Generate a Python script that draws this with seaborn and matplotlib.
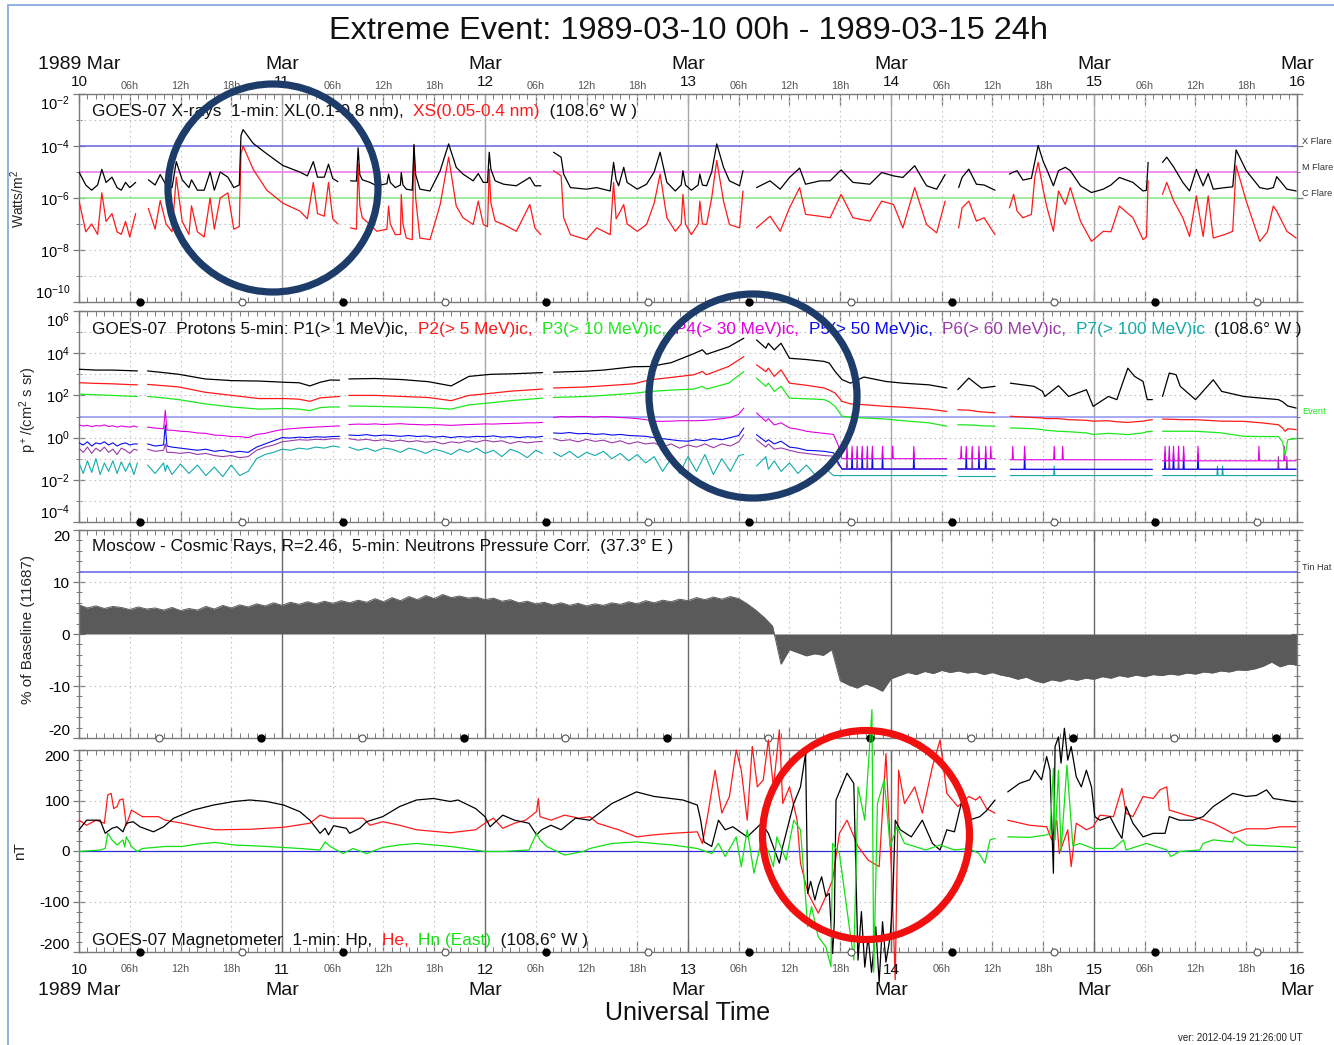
import numpy as np
import matplotlib
matplotlib.use("Agg")
import matplotlib.pyplot as plt
import seaborn as sns
from matplotlib.patches import Ellipse, Rectangle
from matplotlib.ticker import FixedLocator, FuncFormatter, NullFormatter, MultipleLocator
import matplotlib.transforms as mtransforms

# ------------------------------------------------------------------ DATA
# time axis: hours since 1989-03-10 00h
DAY_NUMBERS = [10, 11, 12, 13, 14, 15, 16]
HOUR_LABELS = ["06h", "12h", "18h"]

# Panel 1 - GOES-07 X-rays, log10(W/m^2), one list per data segment
XRAY_T = [
    [0, 0.8, 1.5, 2.2, 2.7, 3.2, 3.9, 4.5, 5.0, 5.5, 6.0, 6.7],
    [8.2, 9.0, 9.6, 10.3, 11.0, 11.5, 12.2, 13.0, 13.3, 14.0, 14.8, 15.5, 16.0, 16.7, 17.6,
     18.3, 18.95, 19.15, 19.4, 20.6, 22.2, 24.1, 26.1, 27.0, 27.7, 28.2, 29.0, 29.5, 30.0, 30.6],
    [32.1, 32.8, 33.0, 33.2, 33.5, 34.4, 35.2, 36.4, 36.6, 36.8, 37.4, 38.0, 38.1, 38.3, 38.7,
     39.4, 39.6, 39.8, 40.3, 41.5, 42.7, 43.7, 44.6, 45.4, 46.6, 47.2, 47.8, 48.3, 48.5, 48.7,
     49.2, 50.2, 51.7, 53.3, 53.9, 54.6],
    [56.1, 57.0, 57.3, 58.1, 60.0, 61.2, 62.8, 63.2, 63.5, 63.8, 64.4, 64.8, 66.0, 67.1, 68.0,
     68.7, 69.5, 70.5, 71.2, 71.4, 71.7, 72.4, 73.2, 73.4, 73.7, 74.2, 74.8, 75.4, 76.2, 76.9,
     78.1, 78.5],
    [80.1, 81.7, 82.9, 84.0, 85.2, 85.9, 87.6, 88.8, 90.1, 91.5, 93.5, 94.9, 96.3, 97.4, 98.8,
     100.2, 101.4, 102.4],
    [104.0, 104.4, 105.2, 106.1, 107.0, 108.3],
    [110.0, 110.5, 110.9, 111.6, 112.6, 113.0, 113.4, 114.0, 114.4, 115.2, 115.8, 116.6, 117.2,
     118.4, 119.7, 121.1, 122.0, 123.0, 124.6, 125.8, 126.2, 126.4],
    [128.1, 128.6, 129.4, 130.5, 131.3, 132.1, 132.9, 133.5, 134.1, 135.5, 136.4, 136.8, 138.0,
     139.6, 140.5, 141.2, 141.6, 142.8, 143.9],
]
XL_LOG = [
    [-5.0, -5.5, -5.7, -5.5, -4.9, -5.4, -5.2, -5.6, -5.7, -5.4, -5.6, -5.4],
    [-5.3, -5.5, -5.1, -5.5, -5.6, -4.6, -5.3, -5.6, -5.3, -5.7, -5.7, -5.0, -5.7, -5.0, -5.2,
     -5.6, -5.5, -3.6, -3.37, -3.9, -4.3, -4.75, -5.0, -5.15, -4.6, -5.2, -5.2, -4.7, -5.25, -5.37],
    [-5.34, -5.35, -4.07, -5.1, -5.3, -5.4, -5.53, -5.45, -5.08, -5.4, -5.6, -5.5, -5.02, -5.5, -5.66,
     -5.7, -3.94, -5.1, -5.66, -5.73, -4.95, -3.92, -4.82, -5.08, -5.34, -5.06, -5.4, -5.4, -4.24, -4.9,
     -5.34, -5.47, -5.53, -5.21, -5.53, -5.53],
    [-4.24, -4.43, -5.08, -5.6, -5.66, -5.6, -5.73, -4.63, -5.3, -5.53, -4.82, -5.4, -5.66, -5.47, -5.0,
     -4.24, -5.4, -5.73, -5.5, -4.95, -5.5, -5.7, -5.5, -5.08, -5.5, -5.53, -5.0, -3.92, -4.82, -5.34,
     -5.53, -4.95],
    [-5.6, -5.34, -5.66, -5.21, -4.85, -5.47, -5.34, -5.34, -4.92, -5.4, -5.47, -5.02, -5.15, -5.21,
     -4.76, -5.53, -5.66, -5.1],
    [-5.6, -5.21, -4.89, -5.47, -5.5, -5.7],
    [-5.08, -5.0, -4.95, -5.31, -5.24, -4.6, -3.98, -4.6, -4.89, -5.53, -4.95, -4.82, -4.95, -5.53,
     -5.79, -5.66, -5.5, -5.21, -5.4, -5.73, -5.7, -4.63],
    [-4.63, -4.43, -4.8, -5.4, -5.73, -4.9, -5.53, -5.06, -5.66, -5.6, -5.57, -4.15, -4.95, -5.6,
     -5.66, -5.6, -5.18, -5.66, -5.73],
]
XS_LOG = [
    [-6.1, -7.3, -7.0, -7.4, -5.8, -6.9, -6.6, -7.3, -7.4, -6.9, -7.5, -6.6],
    [-6.4, -7.2, -6.1, -7.0, -7.3, -5.2, -6.9, -7.4, -6.3, -7.3, -7.5, -6.0, -7.2, -6.0, -5.8,
     -7.2, -7.1, -4.3, -4.0, -4.9, -5.7, -6.2, -6.5, -6.8, -5.4, -6.6, -6.7, -5.4, -6.8, -7.0],
    [-7.15, -7.2, -4.69, -6.3, -6.76, -7.02, -7.28, -7.2, -6.31, -7.0, -7.41, -7.4, -5.86, -7.0, -7.54,
     -7.6, -3.98, -6.0, -7.54, -7.6, -6.25, -4.43, -6.31, -6.76, -7.02, -6.12, -7.02, -7.1, -4.89, -6.2,
     -6.89, -7.02, -7.28, -6.25, -7.15, -7.41],
    [-4.95, -5.15, -6.76, -7.41, -7.6, -7.15, -7.41, -5.4, -6.8, -6.63, -6.25, -7.0, -7.28, -7.02, -6.2,
     -5.08, -6.76, -7.28, -7.0, -5.86, -7.0, -7.41, -7.0, -6.12, -7.0, -7.02, -6.0, -4.56, -6.12, -7.02,
     -7.15, -5.73],
    [-7.15, -6.7, -7.28, -6.38, -5.6, -6.63, -6.7, -6.76, -5.86, -6.76, -6.89, -6.12, -6.25, -7.15,
     -5.6, -7.02, -7.34, -6.12],
    [-7.15, -6.38, -6.12, -6.89, -6.76, -7.41],
    [-6.38, -5.86, -6.5, -6.76, -6.63, -5.2, -4.63, -5.7, -6.31, -7.28, -5.73, -6.25, -5.6, -6.89,
     -7.67, -7.28, -7.3, -6.31, -6.76, -7.6, -7.5, -5.34],
    [-5.86, -5.4, -6.1, -6.76, -7.48, -5.92, -7.48, -5.92, -7.54, -7.4, -7.28, -4.76, -6.12, -7.67,
     -7.3, -6.31, -6.5, -7.28, -7.54],
]
FLARE_LEVELS = [1e-4, 1e-5, 1e-6]
FLARE_NAMES = ["X Flare", "M Flare", "C Flare"]

# Panel 2 - GOES-07 protons, log10(p/(cm2 s sr)); P1-P3 share segment times
P_T = [
    [0, 2, 3.9, 5.5, 6.9],
    [8.1, 10.0, 11.8, 14.9, 18.1, 21.3, 24.4, 26.0, 27.3, 28.5, 29.7, 30.8],
    [31.9, 35.0, 38.2, 41.3, 44.0, 46.1, 48.7, 51.0, 54.8],
    [56.1, 60.0, 62.0, 65.6, 67.5, 70.0, 72.7, 73.7, 74.2, 76.8, 78.6],
    [80.1, 81.2, 81.5, 82.2, 83.0, 84.0, 86.0, 88.1, 88.7, 89.4, 90.2, 91.2, 92.8, 95.4, 97.4, 100.5, 102.6],
    [103.9, 105.2, 106.2, 106.7, 108.3],
    [110.1, 112.9, 113.9, 114.2, 115.8, 117.0, 119.1, 119.9, 121.7, 122.7, 124.0, 124.8, 125.8, 126.3, 126.9],
    [128.1, 128.9, 129.7, 130.2, 132.0, 134.1, 135.1, 137.7, 139.8, 141.8, 142.3, 142.6, 142.9, 143.9],
]
P1_LOG = [
    [3.24, 3.2, 3.2, 3.18, 3.16],
    [3.16, 3.08, 3.0, 2.78, 2.7, 2.68, 2.62, 2.6, 2.45, 2.62, 2.73, 2.72],
    [2.78, 2.8, 2.75, 2.65, 2.45, 2.9, 3.0, 3.02, 3.08],
    [3.1, 3.15, 3.2, 3.36, 3.37, 3.55, 3.98, 4.16, 3.95, 4.3, 4.71],
    [4.63, 4.24, 4.47, 4.16, 4.47, 3.76, 3.7, 3.61, 3.53, 3.13, 2.75, 2.58, 2.87, 2.66, 2.58, 2.5, 2.35],
    [2.27, 2.82, 2.5, 2.35, 2.43],
    [2.58, 2.43, 2.2, 1.95, 2.46, 1.95, 2.27, 1.48, 1.95, 1.8, 3.29, 2.9, 2.66, 1.8, 1.8],
    [1.95, 3.06, 2.98, 2.43, 1.8, 2.74, 2.19, 1.95, 1.87, 1.8, 1.7, 1.6, 1.5, 1.4],
]
P2_LOG = [
    [2.6, 2.57, 2.55, 2.52, 2.5],
    [2.52, 2.46, 2.4, 2.15, 2.0, 1.85, 1.85, 1.82, 1.72, 1.88, 1.92, 1.95],
    [2.0, 2.0, 1.95, 1.9, 1.75, 2.0, 2.1, 2.2, 2.3],
    [2.35, 2.4, 2.45, 2.55, 2.74, 2.85, 2.98, 3.13, 2.98, 3.37, 3.84],
    [3.45, 3.13, 3.29, 2.9, 3.21, 2.58, 2.48, 2.35, 2.25, 2.11, 1.72, 1.6, 1.56, 1.48, 1.44, 1.35, 1.24],
    [1.32, 1.3, 1.24, 1.22, 1.17],
    [1.01, 0.95, 0.93, 0.9, 0.9, 0.85, 0.82, 0.78, 0.8, 0.75, 0.72, 0.75, 0.78, 0.82, 0.85],
    [0.88, 0.87, 0.86, 0.85, 0.85, 0.8, 0.78, 0.77, 0.7, 0.61, 0.45, 0.3, 0.42, 0.38],
]
P3_LOG = [
    [2.06, 2.03, 2.0, 1.97, 1.95],
    [1.95, 1.88, 1.8, 1.6, 1.45, 1.35, 1.38, 1.35, 1.28, 1.42, 1.45, 1.45],
    [1.5, 1.48, 1.45, 1.42, 1.35, 1.55, 1.65, 1.75, 1.87],
    [1.9, 1.95, 2.0, 2.1, 2.19, 2.25, 2.3, 2.43, 2.3, 2.58, 3.13],
    [2.82, 2.43, 2.58, 2.19, 2.43, 1.87, 1.84, 1.8, 1.7, 1.48, 1.01, 0.97, 0.93, 0.88, 0.8, 0.7, 0.54],
    [0.61, 0.6, 0.58, 0.56, 0.54],
    [0.46, 0.42, 0.38, 0.35, 0.3, 0.28, 0.22, 0.15, 0.2, 0.18, 0.14, 0.18, 0.22, 0.28, 0.3],
    [0.3, 0.3, 0.3, 0.3, 0.3, 0.25, 0.22, 0.06, 0.05, 0.05, -0.2, -0.85, -0.1, -0.05],
]
# P4-P7 before the flat, spiky part (segments 1-4 and the decay of segment 5)
HI_T = [
    [0, 0.5, 1, 1.5, 2, 2.5, 3, 3.5, 4, 4.5, 5, 5.5, 6, 6.5, 6.9],
    [8.1, 9, 10, 10.2, 10.4, 11, 12, 13, 14, 15, 16, 17, 18, 19, 20, 21, 22, 23, 24, 25, 26, 27, 28, 29, 30, 30.8],
    [31.9, 33, 34, 35, 36, 37, 38, 39, 40, 41, 42, 43, 44, 45, 46, 47, 48, 49, 50, 51, 52, 53, 54, 54.8],
    [56.1, 57, 58, 59, 60, 61, 62, 63, 64, 65, 66, 67, 68, 69, 70, 71, 72, 73, 74, 75, 76, 77, 78, 78.6],
    [80.1, 81.2, 81.5, 82.2, 83.0, 84.0, 85, 86, 87, 88.1, 89.2, 89.8, 90.2],
]
P4_LOG = [
    [0.6, 0.55, 0.58, 0.52, 0.57, 0.55, 0.6, 0.53, 0.56, 0.5, 0.55, 0.52, 0.5, 0.55, 0.5],
    [0.5, 0.45, 0.42, 1.3, 0.35, 0.35, 0.3, 0.28, 0.22, 0.2, 0.12, 0.1, 0.05, 0.05, 0.0, 0.15, 0.2, 0.3,
     0.38, 0.42, 0.45, 0.48, 0.5, 0.52, 0.54, 0.55],
    [0.62, 0.64, 0.63, 0.65, 0.62, 0.64, 0.66, 0.63, 0.62, 0.6, 0.62, 0.6, 0.58, 0.6, 0.62, 0.63, 0.65,
     0.64, 0.66, 0.67, 0.68, 0.7, 0.7, 0.72],
    [0.95, 1.0, 0.98, 1.0, 1.0, 0.97, 1.0, 0.98, 0.95, 0.93, 0.9, 0.85, 0.78, 0.77, 0.78, 0.8, 0.8, 0.8,
     0.82, 0.85, 0.9, 0.95, 1.1, 1.4],
    [1.17, 0.77, 0.9, 0.6, 0.7, 0.46, 0.4, 0.3, 0.25, 0.2, 0.15, -0.4, -1.0],
]
P5_LOG = [
    [-0.25, -0.35, -0.2, -0.4, -0.25, -0.3, -0.2, -0.35, -0.25, -0.4, -0.3, -0.25, -0.35, -0.3, -0.3],
    [-0.3, -0.4, -0.35, 0.6, -0.4, -0.45, -0.5, -0.55, -0.6, -0.55, -0.65, -0.6, -0.7, -0.65, -0.7, -0.45,
     -0.3, -0.15, 0.0, -0.02, 0.02, 0.0, 0.04, 0.02, 0.05, 0.06],
    [0.12, 0.1, 0.14, 0.08, 0.12, 0.1, 0.06, 0.1, 0.05, 0.08, 0.02, 0.06, 0.0, 0.05, 0.02, 0.06, 0.04,
     0.08, 0.02, 0.05, 0.0, 0.04, 0.02, 0.06],
    [0.22, 0.2, 0.24, 0.18, 0.2, 0.15, 0.18, 0.12, 0.15, 0.1, 0.08, 0.06, 0.0, -0.05, -0.1, -0.15, -0.17,
     -0.1, -0.15, -0.05, -0.1, 0.0, 0.1, 0.46],
    [0.14, -0.2, -0.1, -0.3, -0.17, -0.45, -0.5, -0.6, -0.62, -0.65, -0.72, -1.2, -1.5],
]
P6_LOG = [
    [-0.5, -0.7, -0.45, -0.75, -0.5, -0.65, -0.45, -0.7, -0.55, -0.8, -0.5, -0.6, -0.75, -0.55, -0.6],
    [-0.55, -0.65, -0.6, -0.3, -0.7, -0.7, -0.75, -0.7, -0.8, -0.75, -0.85, -0.9, -0.85, -0.95, -0.9, -0.6,
     -0.45, -0.35, -0.2, -0.15, -0.1, -0.12, -0.08, -0.1, -0.05, -0.06],
    [-0.05, -0.12, -0.08, -0.15, -0.1, -0.18, -0.12, -0.2, -0.15, -0.22, -0.18, -0.3, -0.2, -0.25, -0.15,
     -0.22, -0.12, -0.2, -0.15, -0.28, -0.18, -0.25, -0.2, -0.18],
    [-0.05, -0.15, -0.1, -0.2, -0.08, -0.18, -0.12, -0.25, -0.15, -0.3, -0.2, -0.3, -0.25, -0.45, -0.3,
     -0.5, -0.35, -0.45, -0.3, -0.48, -0.3, -0.4, -0.2, 0.14],
    [-0.1, -0.45, -0.3, -0.55, -0.49, -0.6, -0.7, -0.75, -0.8, -0.85, -0.88, -1.3, -1.47],
]
P7_LOG = [
    [-1.2, -1.7, -1.1, -1.65, -1.0, -1.75, -1.2, -1.6, -1.1, -1.7, -1.15, -1.6, -1.2, -1.75, -1.2],
    [-1.3, -1.7, -1.2, -1.6, -1.3, -1.75, -1.25, -1.7, -1.3, -1.8, -1.4, -1.85, -1.3, -1.8, -1.6, -1.0,
     -0.8, -0.7, -0.55, -0.6, -0.5, -0.55, -0.45, -0.5, -0.4, -0.45],
    [-0.45, -0.6, -0.5, -0.65, -0.5, -0.55, -0.7, -0.5, -0.6, -0.75, -0.55, -0.65, -0.8, -0.55, -0.7,
     -0.5, -0.75, -0.6, -0.9, -0.55, -0.7, -0.95, -0.6, -0.75],
    [-0.7, -0.9, -0.65, -0.95, -0.7, -0.85, -0.65, -1.0, -0.75, -1.1, -0.8, -1.2, -0.9, -1.6, -1.0,
     -1.7, -0.9, -1.6, -0.8, -1.75, -1.0, -1.6, -0.85, -0.8],
    [-1.35, -0.9, -1.5, -1.1, -1.6, -1.2, -1.7, -1.3, -1.75, -1.4, -1.8, -1.8, -1.8],
]
# flat background after the shock with short spikes (times of the spikes)
SPIKY_SPANS = [(90.2, 102.6), (103.9, 108.3), (110.1, 126.9), (128.1, 143.9)]
P4_BASE = [-1.0, -1.0, -1.05, -1.1]
P5_BASE = [-1.5, -1.5, -1.5, -1.5]
P6_BASE = [-1.47, -1.47, -1.48, -1.5]
P7_BASE = [-1.8, -1.8, -1.8, -1.8]
P4_SPIKES = [[90.8, 91.4, 92.0, 92.6, 93.2, 93.8, 95.0, 96.2, 98.7],
             [104.3, 104.9, 105.6, 106.4, 107.2, 107.8],
             [110.4, 111.8, 115.3, 116.3],
             [128.4, 128.9, 129.4, 130.0, 130.6, 132.3, 139.5, 142.5]]
P5_SPIKES = [[91.4, 92.6, 93.8, 95.0, 98.7], [104.9, 106.4, 107.2], [111.8], [128.4, 129.4, 130.6, 132.3]]
P6_SPIKES = [[90.8, 92.0, 93.2], [105.6], [], [128.9, 130.0, 141.8, 142.8]]
P7_SPIKES = [[], [], [115.3], [134.6, 135.2]]
SPIKE_PEAK = {"P4": -0.41, "P5": -0.75, "P6": -0.9, "P7": -1.35}
EVENT_LEVEL = 10.0

# Panel 3 - Moscow neutron monitor, % of baseline, hourly
CR_HOURS = list(range(145))
CR_PCT = [5.6, 5.0, 5.4, 4.9, 5.3, 5.1, 4.7, 5.2, 4.8, 5.0,
          4.6, 5.1, 4.5, 4.9, 4.6, 5.3, 4.8, 5.5, 5.0, 5.6,
          5.2, 5.8, 5.4, 6.0, 5.5, 6.1, 5.7, 6.2, 5.8, 6.3,
          5.9, 6.4, 6.0, 6.5, 6.1, 6.8, 6.2, 7.0, 6.4, 7.2,
          6.6, 7.4, 6.8, 7.6, 7.0, 7.3, 6.9, 7.1, 6.6, 6.9,
          6.3, 6.6, 6.0, 6.3, 5.8, 6.1, 5.6, 6.0, 5.5, 5.9,
          5.4, 5.8, 5.5, 6.0, 5.7, 6.2, 5.8, 6.4, 6.0, 6.5,
          6.2, 6.7, 6.4, 7.0, 6.6, 7.1, 6.7, 7.2, 6.8, 5.8,
          4.6, 3.2, 1.5, -5.8, -3.0, -3.6, -4.2, -3.8, -4.1, -3.0,
          -9.0, -9.8, -10.4, -9.6, -10.2, -11.0, -8.6, -8.0, -7.4, -7.8,
          -7.2, -7.6, -7.0, -7.4, -7.1, -7.5, -7.3, -7.8, -7.4, -7.9,
          -8.2, -8.7, -8.3, -9.0, -9.4, -8.8, -9.1, -8.6, -8.9, -8.5,
          -8.7, -8.2, -8.5, -8.0, -8.3, -7.9, -8.2, -7.8, -8.0, -7.7,
          -7.9, -7.5, -7.7, -7.3, -7.5, -7.1, -7.3, -6.9, -7.0, -6.7,
          -6.2, -5.4, -6.3, -5.8, -5.9]
TIN_HAT_LEVEL = 12.0

# Panel 4 - GOES-07 magnetometer (nT), two data segments per component
HP_T = [
    [0, 0.9, 2.5, 3.1, 3.9, 4.5, 5.2, 5.6, 6.4, 7.2,
     8.8, 10.0, 11.2, 13.5, 15.9, 18.3, 20.2, 22.2, 24.2, 26.1,
     27.3, 28.5, 29.1, 29.5, 30.1, 31.6, 32.0, 33.2, 34.0, 35.9,
     37.9, 39.9, 41.9, 43.9, 44.8, 46.9, 48.0, 48.6, 50.1, 51.5,
     53.2, 54.1, 54.7, 55.8, 57.0, 58.7, 60.4, 63.0, 65.9, 68.0,
     71.4, 73.1, 73.5, 73.9, 74.8, 75.6, 76.4, 77.3, 79.0, 80.7,
     81.5, 82.8, 83.2, 84.5, 85.3, 85.9, 86.15, 86.5, 87.0, 87.4,
     87.8, 88.3, 88.7, 89.1, 89.3, 89.5, 90.8, 91.6, 92.1, 92.5,
     92.9, 93.3, 93.7, 94.2, 94.6, 95.0, 95.4, 95.9, 96.2, 96.5,
     97.1, 98.4, 99.7, 100.9, 101.8, 102.6, 103.5, 104.3, 105.2, 106.5,
     107.3, 108.3],
    [109.8, 111.2, 112.4, 113.0, 113.8, 114.4, 114.8, 115.2, 115.4, 115.8,
     116.1, 116.5, 116.9, 117.3, 117.9, 118.5, 119.1, 119.7, 120.1, 120.7,
     121.9, 122.7, 123.3, 123.8, 124.6, 125.8, 127.0, 128.4, 128.9, 130.1,
     131.7, 132.9, 134.1, 136.4, 138.0, 139.2, 140.4, 141.2, 143.5, 143.9],
]
HP_NT = [
    [42, 61, 61, 35, 45, 48, 38, 55, 58, 48,
     38, 48, 65, 81, 91, 98, 101, 98, 91, 78,
     61, 35, 45, 32, 50, 45, 35, 45, 58, 68,
     88, 101, 104, 98, 101, 84, 68, 48, 71, 61,
     55, 32, 42, 51, 42, 65, 61, 94, 117, 108,
     101, 91, 61, 18, 9, 61, 42, 48, 28, 55,
     35, -24, 9, 94, 127, 193, -84, -60, -97, -70,
     -51, -90, -84, -203, -140, 101, 154, 134, -216, -120,
     -230, -170, -240, -150, -260, -140, -220, -170, -100, 61,
     42, 28, 61, 15, 2, 42, 38, 94, 61, 68,
     80, 101],
    [117, 134, 141, 160, 141, 187, 160, -44, 207, 226,
     174, 243, 180, 207, 147, 127, 160, 127, 68, 61,
     68, 42, 25, 88, 55, 28, 35, 35, 68, 61,
     61, 68, 88, 114, 108, 110, 121, 104, 98, 98],
]
HE_T = [
    [0, 0.9, 2.0, 3.0, 3.4, 3.8, 4.1, 4.5, 4.8, 5.2,
     5.6, 6.2, 7.5, 9.4, 10.2, 12.2, 14.1, 16.1, 20.2, 24.2,
     27.3, 28.5, 29.7, 32.0, 33.6, 34.4, 35.9, 37.9, 39.9, 43.9,
     44.8, 46.9, 48.0, 49.0, 50.1, 51.5, 52.8, 54.1, 54.3, 54.5,
     55.8, 57.4, 59.1, 60.4, 61.3, 63.8, 65.9, 68.0, 70.1, 73.1,
     73.7, 74.3, 75.2, 76.0, 76.9, 77.7, 78.3, 79.0, 79.6, 80.2,
     80.9, 81.5, 82.1, 82.8, 83.2, 84.0, 84.9, 85.3, 86.2, 87.4,
     88.3, 89.1, 89.9, 90.8, 92.1, 93.3, 94.6, 95.4, 96.1, 96.5,
     96.9, 97.6, 98.8, 99.7, 100.9, 101.8, 102.6, 103.9, 105.2, 106.0,
     106.5, 107.3, 108.3],
    [109.8, 112.4, 114.4, 115.0, 115.6, 115.9, 116.9, 117.3, 117.9, 119.1,
     119.9, 120.7, 122.3, 123.3, 123.8, 124.6, 125.8, 127.0, 127.8, 128.6,
     128.9, 130.9, 132.5, 134.1, 135.6, 136.4, 138.0, 140.4, 142.0, 143.9],
]
HE_NT = [
    [61, 51, 61, 55, 111, 114, 84, 88, 101, 103,
     51, 81, 68, 68, 61, 55, 48, 42, 43, 47,
     55, 71, 65, 65, 65, 51, 58, 51, 42, 36,
     38, 42, 55, 65, 45, 55, 61, 78, 104, 68,
     61, 71, 65, 68, 55, 42, 28, 32, 35, 38,
     15, 68, 160, 75, 108, 200, 160, 61, 207, 127,
     141, 220, 127, 240, 94, 127, 61, -24, -84, -123,
     -90, -57, 35, 61, 9, -18, -31, 193, -57, -255,
     160, 94, 127, 75, 167, 220, 114, 88, 108, 101,
     108, 84, 75],
    [61, 51, 48, 22, 61, -5, 42, -31, 55, 42,
     48, 71, 68, 124, 75, 68, 108, 104, 121, 127,
     81, 71, 64, 55, 42, 35, 44, 44, 48, 48],
]
HN_T = [
    [0, 2.5, 3.1, 3.4, 3.9, 4.5, 5.2, 5.4, 5.6, 6.2,
     6.9, 7.5, 10.2, 12.2, 14.1, 16.1, 18.3, 22.2, 26.1, 28.5,
     29.1, 29.7, 31.2, 32.4, 34.0, 35.9, 37.9, 39.9, 43.9, 46.9,
     48.0, 50.1, 53.2, 54.1, 54.5, 55.3, 57.4, 59.6, 60.4, 63.0,
     65.9, 70.1, 73.1, 74.8, 75.6, 76.4, 77.7, 78.3, 79.0, 79.8,
     80.7, 81.5, 82.1, 82.5, 83.6, 84.5, 85.3, 86.15, 86.6, 87.4,
     88.3, 88.9, 89.1, 89.9, 91.6, 92.1, 92.9, 93.75, 93.96, 94.4,
     95.2, 95.9, 96.7, 97.6, 98.8, 100.1, 101.8, 103.5, 105.2, 106.4,
     107.1, 107.7, 108.3],
    [109.8, 112.4, 114.4, 114.8, 115.2, 115.4, 115.8, 116.1, 116.8, 117.5,
     118.3, 119.9, 122.3, 123.5, 123.8, 126.2, 128.6, 129.1, 130.1, 132.5,
     132.9, 134.1, 136.4, 136.6, 138.0, 142.0, 143.9],
]
HN_NT = [
    [-1, 2, 5, 35, 22, 12, 22, 8, 28, 9,
     -1, 5, 9, 9, 14, 17, 12, 9, 5, 2,
     18, 9, -5, 5, -5, 7, 12, 15, 9, 2,
     -1, -1, 2, 35, 22, 9, -8, -1, 5, 15,
     18, 12, 5, -5, 15, -11, 28, -31, 42, -44,
     22, 0, -31, 28, -18, 61, 42, -150, -110, -170,
     -190, -229, 15, -5, -216, 127, 61, 280, -240, 94,
     141, 9, 48, 15, 9, 2, 12, 2, 5, -5,
     -24, 22, 25],
    [28, 27, 32, 35, 164, 22, 160, -1, 170, 10,
     15, 5, 5, 22, 2, 15, 2, -11, -1, 2,
     15, 22, 18, 28, 12, 9, 7],
]

# local midnight (filled) / noon (open) markers
GOES_MIDNIGHT = [7.24, 31.24, 55.24, 79.24, 103.24, 127.24]
GOES_NOON = [19.24, 43.24, 67.24, 91.24, 115.24, 139.24]
MOSCOW_MIDNIGHT = [21.5, 45.5, 69.5, 93.5, 117.5, 141.5]
MOSCOW_NOON = [9.5, 33.5, 57.5, 81.5, 105.5, 129.5]

# ------------------------------------------------------------------ STYLE
sns.set_theme(style="white")
plt.rcParams["font.family"] = ["Liberation Sans", "DejaVu Sans"]
plt.rcParams["mathtext.fontset"] = "custom"
plt.rcParams["mathtext.rm"] = "Liberation Sans"
plt.rcParams["mathtext.it"] = "Liberation Sans:italic"
plt.rcParams["mathtext.bf"] = "Liberation Sans:bold"
plt.rcParams["mathtext.default"] = "regular"
plt.rcParams["axes.unicode_minus"] = False

W, H = 1334, 1045
fig = plt.figure(figsize=(W / 100, H / 100), dpi=100)
fig.patch.set_facecolor("white")


def px_axes(x0, y0, x1, y1):
    return fig.add_axes([x0 / W, 1 - y1 / H, (x1 - x0) / W, (y1 - y0) / H])


ax1 = px_axes(79, 94, 1297, 302)
ax2 = px_axes(79, 311, 1297, 522)
ax3 = px_axes(79, 530, 1297, 738)
ax4 = px_axes(79, 750, 1297, 952)

C_RED = "#ff1a1a"
C_GREEN = "#1ee81e"
C_MAG = "#e000e0"
C_BLUE = "#0a0aee"
C_PURP = "#9a3aa8"
C_TEAL = "#14aaaa"
PANEL_FS = 12.4


def line(ax, t, v, color, lw=0.9, clip=True, z=3, log=False):
    n = min(len(t), len(v))
    x = np.asarray(t[:n], float)
    y = np.asarray(v[:n], float)
    if log:
        y = np.power(10.0, y)
    sns.lineplot(x=x, y=y, ax=ax, color=color, linewidth=lw, estimator=None,
                 sort=False, legend=False, zorder=z)
    ax.lines[-1].set_clip_on(clip)


def spiky(t0, t1, base, spikes, peak, half=0.07):
    t, v = [t0], [base]
    for s in spikes:
        t += [s - half, s, s + half]
        v += [base, peak, base]
    t.append(t1)
    v.append(base)
    return t, v


def style(ax, daycol):
    ax.set_xlim(0, 144)
    ax.set_facecolor("white")
    for s in ax.spines.values():
        s.set_visible(True)
        s.set_color("#7a7a7a")
        s.set_linewidth(1.0)
    ax.xaxis.set_major_locator(MultipleLocator(6))
    ax.xaxis.set_minor_locator(MultipleLocator(1))
    ax.tick_params(axis="x", which="both", bottom=True, top=True, direction="in",
                   labelbottom=False, labeltop=False, color="#7a7a7a")
    ax.tick_params(axis="x", which="major", length=8, width=0.9)
    ax.tick_params(axis="x", which="minor", length=3.5, width=0.7)
    ax.tick_params(axis="y", which="both", left=True, right=True, direction="inout",
                   color="#7a7a7a", labelsize=10.5, pad=2, labelcolor="black")
    ax.tick_params(axis="y", which="major", length=9, width=0.9)
    ax.tick_params(axis="y", which="minor", length=5, width=0.7)
    for h in range(6, 144, 6):
        if h % 24 == 0:
            ax.axvline(h, color=daycol, lw=1.0, zorder=1)
        else:
            ax.axvline(h, color="#c4c4c4", lw=0.8, ls=(0, (1.5, 3)), zorder=1)


def end_labels(ax):
    ticks = ax.yaxis.get_major_ticks()
    ticks[0].label1.set_verticalalignment("bottom")
    ticks[-1].label1.set_verticalalignment("top")


def markers(ax, filled, opened):
    tr = mtransforms.blended_transform_factory(ax.transData, ax.transAxes)
    ax.plot(filled, [0] * len(filled), "o", ms=5, color="black", transform=tr,
            clip_on=False, zorder=8)
    ax.plot(opened, [0] * len(opened), "o", ms=5, mfc="white", mec="#555555", mew=0.8,
            transform=tr, clip_on=False, zorder=8)


def rainbow(ax, x, y, pieces, fs=PANEL_FS):
    t = ax.text(x, y, pieces[0][0], color=pieces[0][1], transform=ax.transAxes,
                fontsize=fs, va="baseline", ha="left", zorder=9)
    for s, c in pieces[1:]:
        t = ax.annotate(s, xy=(1, 0), xycoords=t, va="bottom", ha="left", color=c,
                        fontsize=fs, zorder=9, annotation_clip=False)


def right_label(ax, yval, text, color="#333333"):
    tr = mtransforms.blended_transform_factory(ax.transAxes, ax.transData)
    ax.text(1.004, yval, text, transform=tr, fontsize=6.6, color=color, va="bottom",
            ha="left", clip_on=False)


log_fmt = FuncFormatter(lambda v, p: r"$10^{%d}$" % int(round(np.log10(v))))

# ------------------------------------------------------------------ PANEL 1
ax1.set_yscale("log")
for t, xl, xs in zip(XRAY_T, XL_LOG, XS_LOG):
    line(ax1, t, xs, C_RED, log=True)
    line(ax1, t, xl, "black", log=True, z=4)
for lev, c in zip(FLARE_LEVELS, ["#6f6fe6", "#ee7cee", "#8ee88e"]):
    ax1.axhline(lev, color=c, lw=1.2, zorder=2)
for e in range(-9, -2):
    if 10.0 ** e not in FLARE_LEVELS:
        ax1.axhline(10.0 ** e, color="#c4c4c4", lw=0.8, ls=(0, (1.5, 3)), zorder=1)
style(ax1, "#a8a8a8")
ax1.set_ylim(1e-10, 1e-2)
ax1.yaxis.set_major_locator(FixedLocator([1e-10, 1e-8, 1e-6, 1e-4, 1e-2]))
ax1.yaxis.set_minor_locator(FixedLocator([1e-9, 1e-7, 1e-5, 1e-3]))
ax1.yaxis.set_major_formatter(log_fmt)
ax1.yaxis.set_minor_formatter(NullFormatter())
for lev, name in zip(FLARE_LEVELS, FLARE_NAMES):
    right_label(ax1, lev, name)
rainbow(ax1, 0.0107, 0.893, [("GOES-07 X-rays  1-min: XL(0.1-0.8 nm),  ", "#111111"),
                             ("XS(0.05-0.4 nm)", C_RED), ("  (108.6° W )", "#111111")])
markers(ax1, GOES_MIDNIGHT, GOES_NOON)

# ------------------------------------------------------------------ PANEL 2
ax2.set_yscale("log")
hi_series = [("P7", P7_LOG, P7_BASE, P7_SPIKES, C_TEAL),
             ("P6", P6_LOG, P6_BASE, P6_SPIKES, C_PURP),
             ("P5", P5_LOG, P5_BASE, P5_SPIKES, C_BLUE),
             ("P4", P4_LOG, P4_BASE, P4_SPIKES, C_MAG)]
for name, vals, base, spikes, col in hi_series:
    for k in range(4):
        line(ax2, HI_T[k], vals[k], col, lw=0.8, log=True)
    for k, (t0, t1) in enumerate(SPIKY_SPANS):
        st, sv = spiky(t0, t1, base[k], spikes[k], SPIKE_PEAK[name])
        if k == 0:
            st = list(HI_T[4]) + st
            sv = list(vals[4]) + sv
        line(ax2, st, sv, col, lw=0.8, log=True)
for vals, col in [(P3_LOG, C_GREEN), (P2_LOG, C_RED), (P1_LOG, "black")]:
    for t, v in zip(P_T, vals):
        line(ax2, t, v, col, lw=0.9, log=True, z=4)
ax2.axhline(EVENT_LEVEL, color="#9a9af0", lw=1.2, zorder=2)
for e in range(-3, 6):
    if e != 1:
        ax2.axhline(10.0 ** e, color="#c4c4c4", lw=0.8, ls=(0, (1.5, 3)), zorder=1)
style(ax2, "#a8a8a8")
ax2.set_ylim(1e-4, 1e6)
ax2.yaxis.set_major_locator(FixedLocator([1e-4, 1e-2, 1e0, 1e2, 1e4, 1e6]))
ax2.yaxis.set_minor_locator(FixedLocator([1e-3, 1e-1, 1e1, 1e3, 1e5]))
ax2.yaxis.set_major_formatter(log_fmt)
ax2.yaxis.set_minor_formatter(NullFormatter())
right_label(ax2, EVENT_LEVEL, "Event", color=C_GREEN)
rainbow(ax2, 0.0107, 0.891, [("GOES-07  Protons 5-min: P1(> 1 MeV)ic,  ", "#111111"),
                             ("P2(> 5 MeV)ic,  ", C_RED), ("P3(> 10 MeV)ic,  ", C_GREEN),
                             ("P4(> 30 MeV)ic,  ", C_MAG), ("P5(> 50 MeV)ic,  ", C_BLUE),
                             ("P6(> 60 MeV)ic,  ", C_PURP), ("P7(> 100 MeV)ic  ", C_TEAL),
                             ("(108.6° W )", "#111111")])
markers(ax2, GOES_MIDNIGHT, GOES_NOON)

# ------------------------------------------------------------------ PANEL 3
ax3.fill_between(CR_HOURS, 0, CR_PCT, color="#5a5a5a", lw=0, zorder=2)
line(ax3, CR_HOURS, CR_PCT, "#5a5a5a", lw=0.7, z=2)
ax3.axhline(TIN_HAT_LEVEL, color="#6c6cee", lw=1.2, zorder=2)
for yv in (-10, 10):
    ax3.axhline(yv, color="#c4c4c4", lw=0.8, ls=(0, (1.5, 3)), zorder=1)
style(ax3, "#6a6a6a")
ax3.set_ylim(-20, 20)
ax3.yaxis.set_major_locator(FixedLocator([-20, -10, 0, 10, 20]))
ax3.yaxis.set_minor_locator(MultipleLocator(2))
ax3.tick_params(axis="y", labelsize=11)
right_label(ax3, TIN_HAT_LEVEL, "Tin Hat")
rainbow(ax3, 0.0107, 0.900, [("Moscow - Cosmic Rays, R=2.46,  5-min: Neutrons Pressure Corr.  (37.3° E )",
                              "#111111")])
markers(ax3, MOSCOW_MIDNIGHT, MOSCOW_NOON)

# ------------------------------------------------------------------ PANEL 4
ax4.axhline(0, color="#2a2ae0", lw=0.9, zorder=2)
for yv in (-100, 100):
    ax4.axhline(yv, color="#c4c4c4", lw=0.8, ls=(0, (1.5, 3)), zorder=1)
for k in range(2):
    line(ax4, HE_T[k], HE_NT[k], C_RED, lw=0.9, clip=False, z=3)
    line(ax4, HP_T[k], HP_NT[k], "black", lw=0.9, clip=False, z=4)
    line(ax4, HN_T[k], HN_NT[k], "#12e012", lw=0.9, clip=False, z=5)
style(ax4, "#6a6a6a")
ax4.set_ylim(-200, 200)
ax4.yaxis.set_major_locator(FixedLocator([-200, -100, 0, 100, 200]))
ax4.yaxis.set_minor_locator(MultipleLocator(20))
ax4.tick_params(axis="y", labelsize=11)
rainbow(ax4, 0.0107, 0.035, [("GOES-07 Magnetometer  1-min: Hp,  ", "#111111"),
                             ("He,  ", C_RED), ("Hn (East)", "#12e012"),
                             ("  (108.6° W )", "#111111")])
markers(ax4, GOES_MIDNIGHT, GOES_NOON)

for ax in (ax1, ax2, ax3, ax4):
    ax.set_xlabel("")
    ax.set_ylabel("")
    end_labels(ax)

# ------------------------------------------------------------------ TIME LABELS
for d, num in enumerate(DAY_NUMBERS):
    h = 24 * d
    mon = "1989 Mar" if d == 0 else "Mar"
    kw = dict(xycoords=("data", "axes fraction"), textcoords="offset points",
              ha="center", va="center", annotation_clip=False, color="#111111")
    ax1.annotate(mon, xy=(h, 1), xytext=(0, 21), fontsize=14, **kw)
    ax1.annotate(str(num), xy=(h, 1), xytext=(0, 8.6), fontsize=11, **kw)
    ax4.annotate(str(num), xy=(h, 0), xytext=(0, -13), fontsize=11, **kw)
    ax4.annotate(mon, xy=(h, 0), xytext=(0, -27.5), fontsize=14, **kw)
for d in range(6):
    for hh, lab in zip((6, 12, 18), HOUR_LABELS):
        h = 24 * d + hh
        kw = dict(xycoords=("data", "axes fraction"), textcoords="offset points",
                  ha="center", va="center", annotation_clip=False, color="#555555", fontsize=7.8)
        ax1.annotate(lab, xy=(h, 1), xytext=(0, 6), **kw)
        ax4.annotate(lab, xy=(h, 0), xytext=(0, -12.3), **kw)

# ------------------------------------------------------------------ TEXTS
fig.text(688 / W, 1 - 31 / H, "Extreme Event: 1989-03-10 00h - 1989-03-15 24h",
         ha="center", va="center", fontsize=23.4, color="#111111")
fig.text(688 / W, 1 - 1013 / H, "Universal Time", ha="center", va="center",
         fontsize=18, color="#111111")
fig.text(1303 / W, 1 - 1038 / H, "ver: 2012-04-19 21:26:00 UT", ha="right", va="center",
         fontsize=7, color="#222222")
fig.text(18 / W, 1 - 199 / H, "Watts/m$^2$", rotation=90, ha="center", va="center", fontsize=10)
fig.text(28 / W, 1 - 410 / H, "p$^+$/(cm$^2$ s sr)", rotation=90, ha="center", va="center", fontsize=10.5)
fig.text(28 / W, 1 - 630 / H, "% of Baseline (11687)", rotation=90, ha="center", va="center",
         fontsize=11)
fig.text(20 / W, 1 - 851 / H, "nT", rotation=90, ha="center", va="center", fontsize=11)

# ------------------------------------------------------------------ ANNOTATION CIRCLES + FRAME
for cx, cy, w, h, col in [(273, 188, 210, 208, "#1d3c6a"),
                          (753, 396, 208, 204, "#1d3c6a"),
                          (866, 835, 207, 209, "#f01010")]:
    fig.add_artist(Ellipse((cx / W, 1 - cy / H), w / W, h / H, transform=fig.transFigure,
                           fill=False, ec=col, lw=5.2, zorder=20))
fig.add_artist(Rectangle((7.5 / W, -0.01), 1.2, 1.01 - 4.5 / H, transform=fig.transFigure,
                         fill=False, ec="#8fb2de", lw=1.4, zorder=21))

fig.savefig("out.png", dpi=100)
